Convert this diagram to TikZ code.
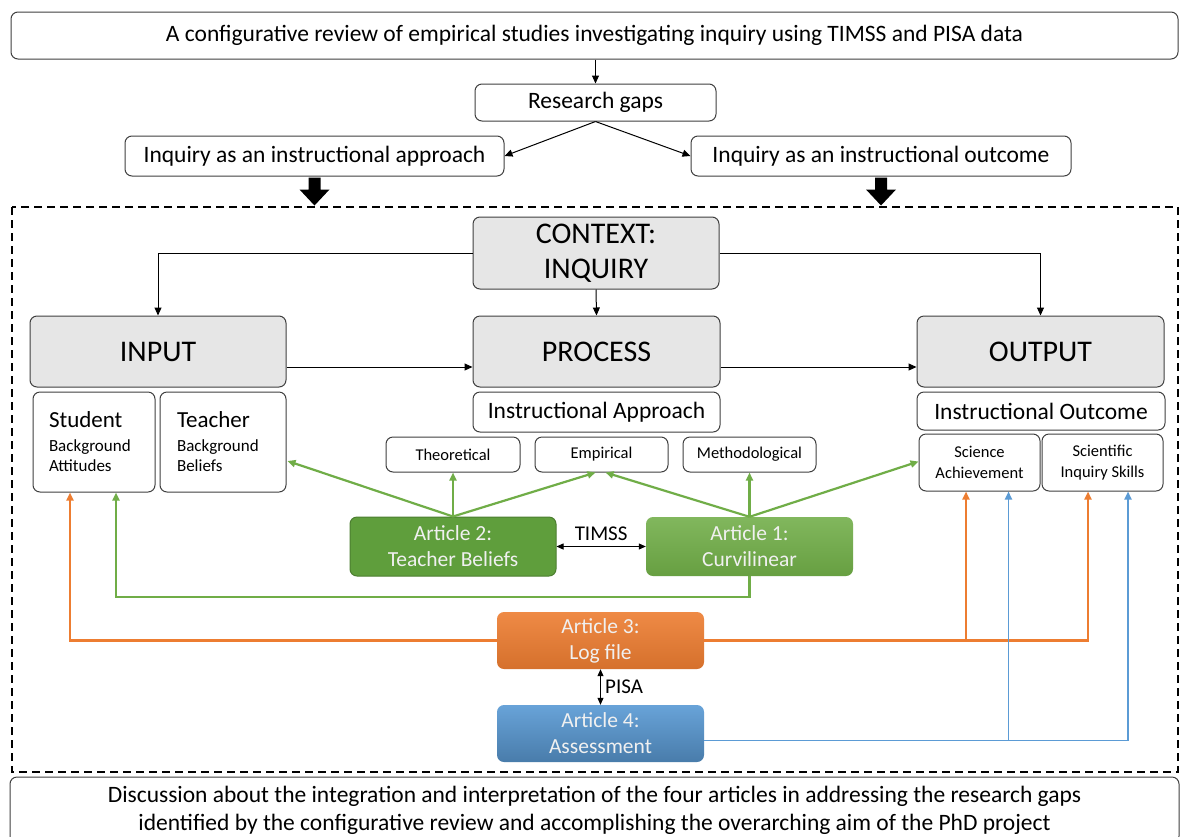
\documentclass[tikz,border=0pt]{standalone}
\usepackage{fontspec}
\setmainfont{Carlito}
\usetikzlibrary{arrows.meta,calc}

\definecolor{boxgray}{HTML}{E6E6E6}
\definecolor{edge}{HTML}{404040}
\definecolor{lgreen}{HTML}{70AD47}
\definecolor{dgreen}{HTML}{5F9E3C}
\definecolor{orng}{HTML}{ED7D31}
\definecolor{blu}{HTML}{5B9BD5}

\newcommand{\fs}[2]{\fontsize{#1}{#2}\selectfont}

\tikzset{
  box/.style={draw=edge, line width=1pt, rounded corners=7pt, fill=white,
    inner sep=0pt, align=center, font=\fs{23.5}{28}},
  graybox/.style={box, fill=boxgray, font=\fs{30}{35}},
  smallbox/.style={box, font=\fs{16.5}{21}},
  listbox/.style={box, align=left, text width=#1, font=\fs{17}{20}},
  article/.style={rounded corners=7pt, inner sep=0pt, align=center,
    text=white!94!black, font=\fs{21.5}{26}},
  arr/.style={-{Triangle[length=8pt,width=7pt]}, line width=1pt, black},
  darr/.style={{Triangle[length=7pt,width=6pt]}-{Triangle[length=7pt,width=6pt]}, line width=0.8pt, black},
  garr/.style={-{Triangle[length=8pt,width=7pt]}, line width=2.2pt, lgreen},
  oarr/.style={-{Triangle[length=8pt,width=7pt]}, line width=2.2pt, orng},
  barr/.style={-{Triangle[length=8pt,width=7pt]}, line width=1.8pt, blu},
}

\begin{document}
\begin{tikzpicture}[x=1pt,y=-1pt]
  \clip (0,0) rectangle (1180,836);
  \fill[white] (0,0) rectangle (1180,836);

  % top chain
  \node[box, minimum width=1167, minimum height=47] (top) at (594.5,35.5)
    {A configurative review of empirical studies investigating inquiry using TIMSS and PISA data};
  \node[box, minimum width=241, minimum height=37] (gaps) at (595.5,102.5) {Research gaps};
  \node[box, minimum width=379, minimum height=40] (appr) at (314.5,156) {Inquiry as an instructional approach};
  \node[box, minimum width=380, minimum height=40] (outc) at (881,156) {Inquiry as an instructional outcome};

  \draw[arr] (top.south -| gaps.north) -- (gaps.north);
  \draw[arr] (gaps.south) -- (appr.east);
  \draw[arr] (gaps.south) -- (outc.west);

  % block arrows into the framework
  \foreach \n in {appr,outc}{
    \fill[black] ($(\n.south)+(-6,1)$) -- ++(12,0) -- ++(0,12) -- ++(9,0)
      -- ($(\n.south)+(0,29)$) -- ($(\n.south)+(-15,13)$) -- ($(\n.south)+(-6,13)$) -- cycle;
  }

  % framework frame
  \draw[dashed, dash pattern=on 8pt off 5pt, line width=1.4pt, black] (12,207) rectangle (1178,772);

  % context / input / process / output
  \node[graybox, minimum width=246, minimum height=72] (ctx) at (596,253) {CONTEXT:\\INQUIRY};
  \node[graybox, minimum width=256, minimum height=71] (inp) at (158,351.5) {INPUT};
  \node[graybox, minimum width=247, minimum height=71] (proc) at (596.5,351.5) {PROCESS};
  \node[graybox, minimum width=247, minimum height=71] (outp) at (1040.5,351.5) {OUTPUT};

  \draw[arr] (ctx.west) -| (inp.north);
  \draw[arr] (ctx.east) -| (outp.north);
  \draw[arr] (ctx.south) -- (proc.north);
  \draw[arr] ($(inp.east)+(0,15.5)$) -- ($(proc.west)+(0,15.5)$);
  \draw[arr] ($(proc.east)+(0,15.5)$) -- ($(outp.west)+(0,15.5)$);

  % input details
  \node[listbox=90pt, minimum width=122, minimum height=100] (stud) at (94,442)
    {{\fs{23}{20}Student}\\[4pt]Background\\Attitudes};
  \node[listbox=92pt, minimum width=126, minimum height=100] (teach) at (223,442)
    {{\fs{23}{20}Teacher}\\[4pt]Background\\Beliefs};

  % process details
  \node[box, minimum width=247, minimum height=40] (iappr) at (596.5,412) {Instructional Approach};
  \node[smallbox, minimum width=134, minimum height=35] (theo) at (453,454.5) {Theoretical};
  \node[smallbox, minimum width=133, minimum height=35] (emp) at (601.5,454.5) {Empirical};
  \node[smallbox, minimum width=133, minimum height=35] (meth) at (749.5,454.5) {Methodological};

  % output details
  \node[box, minimum width=248, minimum height=38] (iout) at (1041,411) {Instructional Outcome};
  \node[smallbox, minimum width=121, minimum height=57] (sach) at (979.5,462.5) {Science\\Achievement};
  \node[smallbox, minimum width=121, minimum height=57] (sinq) at (1102.5,462.5) {Scientific\\Inquiry Skills};

  % articles
  \node[article, draw=dgreen!80!black, line width=1pt, fill=dgreen,
    minimum width=206, minimum height=59] (a2) at (453,546.5) {Article 2:\\Teacher Beliefs};
  \node[article, top color=lgreen!88!white, bottom color=lgreen!92!black,
    minimum width=207, minimum height=59] (a1) at (749.5,546.5) {Article 1:\\Curvilinear};
  \node[article, top color=orng!90!white, bottom color=orng!90!black,
    minimum width=207, minimum height=57] (a3) at (600.5,640.5) {Article 3:\\Log file};
  \node[article, top color=blu!92!white, bottom color=blu!80!black,
    minimum width=207, minimum height=57] (a4) at (600.5,733.5) {Article 4:\\Assessment};

  \draw[darr] (a2.east) -- node[above=2pt, font=\fs{21}{24}] (timss) {TIMSS} (a1.west);
  \draw[darr] (a3.south) -- node[right=1pt, font=\fs{21}{24}] (pisa) {PISA} (a4.north);

  % article 2 and article 1 links
  \draw[garr] (a2.north) -- ($(teach.east)+(1,19)$);
  \draw[garr] (a2.north) -- (theo.south);
  \draw[garr] (a2.north) -- ($(emp.south)+(-6,0)$);
  \draw[garr] (a1.north) -- ($(emp.south)+(4,0)$);
  \draw[garr] (a1.north) -- (meth.south);
  \draw[garr] (a1.north) -- ($(sach.west)+(0,-1)$);
  \draw[garr] (a1.south) -- ++(0,21) -| ($(stud.south)+(22,0)$);

  % article 3 links
  \draw[oarr] (a3.west) -| ($(stud.south)+(-24,0)$);
  \draw[oarr] (a3.east) -| ($(sach.south)+(-13.5,0)$);
  \draw[oarr] (a3.east) -| ($(sinq.south)+(-14.5,0)$);

  % article 4 links
  \draw[barr] ($(a4.east)+(0,7)$) -| ($(sach.south)+(29,0)$);
  \draw[barr] ($(a4.east)+(0,7)$) -| ($(sinq.south)+(25.5,0)$);

  % closing box
  \node[box, minimum width=1169, minimum height=66] (bottom) at (594.5,810)
    {Discussion about the integration and interpretation of the four articles in addressing the research gaps\\
     identified by the configurative review and accomplishing the overarching aim of the PhD project};
\end{tikzpicture}
\end{document}
